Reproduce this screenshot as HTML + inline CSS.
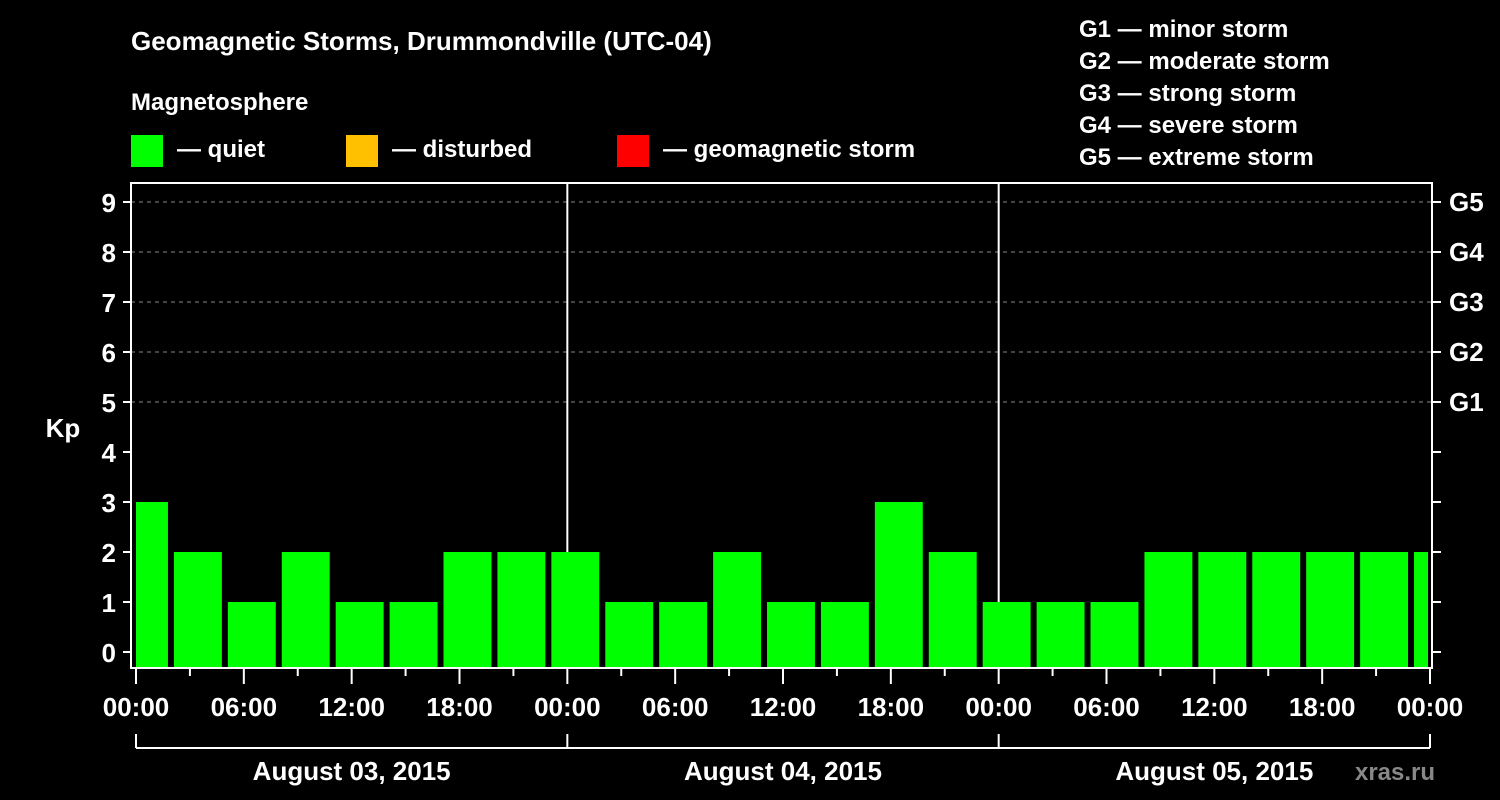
<!DOCTYPE html>
<html><head><meta charset="utf-8"><style>
html,body{margin:0;padding:0;background:#000;width:1500px;height:800px;overflow:hidden}
svg text{font-family:"Liberation Sans",sans-serif;font-weight:bold;fill:#fff}
</style></head><body>
<svg id="chart" width="1500" height="800" xmlns="http://www.w3.org/2000/svg">
<text x="131" y="50" font-size="26">Geomagnetic Storms, Drummondville (UTC-04)</text>
<text x="131" y="110" font-size="24">Magnetosphere</text>
<g>
<rect x="131" y="135" width="32" height="32" fill="#00ff00"/>
<text x="177" y="157" font-size="24">— quiet</text>
<rect x="346" y="135" width="32" height="32" fill="#ffc000"/>
<text x="392" y="157" font-size="24">— disturbed</text>
<rect x="617" y="135" width="32" height="32" fill="#ff0000"/>
<text x="663" y="157" font-size="24">— geomagnetic storm</text>
</g>
<g font-size="24">
<text x="1079" y="37">G1 — minor storm</text>
<text x="1079" y="69">G2 — moderate storm</text>
<text x="1079" y="101">G3 — strong storm</text>
<text x="1079" y="133">G4 — severe storm</text>
<text x="1079" y="165">G5 — extreme storm</text>
</g>
<text x="63" y="437" font-size="26" text-anchor="middle">Kp</text>
<text x="1395" y="780" font-size="24" text-anchor="middle" style="fill:#888">xras.ru</text>
<g id="grid"></g><g id="bars"></g><g id="axes"></g>
</svg>
<script>
const kpValues=[3,2,1,2,1,1,2,2,2,1,1,2,1,1,3,2,1,1,1,2,2,2,2,2,2];
const binStartHours=[-1,2,5,8,11,14,17,20,23,26,29,32,35,38,41,44,47,50,53,56,59,62,65,68,71];
const yTicks=[0,1,2,3,4,5,6,7,8,9];
const gLabels=["G1","G2","G3","G4","G5"];
const gLevels=[5,6,7,8,9];
const xTickLabels=["00:00","06:00","12:00","18:00","00:00","06:00","12:00","18:00","00:00","06:00","12:00","18:00","00:00"];
const dateLabels=["August 03, 2015","August 04, 2015","August 05, 2015"];
const NS="http://www.w3.org/2000/svg";
const L=131,R=1432,T=183,B=668;
const x=h=>136+h*(1430-136)/72;
const y=v=>652-v*50;
function mk(tag,attrs,parent,txt){const e=document.createElementNS(NS,tag);for(const k in attrs)e.setAttribute(k,attrs[k]);if(txt!==undefined)e.textContent=txt;document.getElementById(parent).appendChild(e);return e;}
gLevels.forEach((v,i)=>{
 const g=mk('line',{x1:L,x2:R,y1:y(v),y2:y(v),stroke:'#888','stroke-dasharray':'4,4','stroke-width':1},'grid');
 
 
 const t=mk('text',{x:1449,y:y(v)+9,'font-size':26},'axes',gLabels[i]);
 
 
});
[1,2].forEach(d=>{const l=mk('line',{x1:x(24*d),x2:x(24*d),y1:T,y2:B,stroke:'#fff','stroke-width':2},'grid');
 
 });
kpValues.forEach((v,i)=>{
 let x0=x(binStartHours[i])+2,x1=x(binStartHours[i]+3)-4;
 x0=Math.max(x0,136);x1=Math.min(x1,1428);
 const c=v>=5?'#ff0000':(v>=4?'#ffc000':'#00ff00');
 const r=mk('rect',{x:x0,y:y(v),width:x1-x0,height:B-y(v),fill:c},'bars');
 
 
});
const fr=mk('rect',{x:L,y:T,width:R-L,height:B-T,fill:'none',stroke:'#fff','stroke-width':2},'axes');


yTicks.forEach(v=>{
 mk('line',{x1:L-8,x2:L,y1:y(v),y2:y(v),stroke:'#fff','stroke-width':2},'axes');
 mk('line',{x1:R,x2:R+9,y1:y(v),y2:y(v),stroke:'#fff','stroke-width':2},'axes');
 const t=mk('text',{x:116,y:y(v)+10,'font-size':26,'text-anchor':'end'},'axes',String(v));
 
 
});
for(let h=0;h<=72;h+=3){
 const long=h%6===0;
 mk('line',{x1:x(h),x2:x(h),y1:B,y2:B+(long?16:8),stroke:'#fff','stroke-width':2},'axes');
}
xTickLabels.forEach((s,i)=>{
 const t=mk('text',{x:x(i*6),y:716,'font-size':26,'text-anchor':'middle'},'axes',s);
 
 
});
mk('line',{x1:x(0),x2:x(72),y1:748,y2:748,stroke:'#fff','stroke-width':2},'axes');
for(let d=0;d<=3;d++)mk('line',{x1:x(24*d),x2:x(24*d),y1:734,y2:748,stroke:'#fff','stroke-width':2},'axes');
dateLabels.forEach((s,i)=>{
 const t=mk('text',{x:x(24*i+12),y:780,'font-size':26,'text-anchor':'middle'},'axes',s);
 
 
});
</script>
</body></html>
